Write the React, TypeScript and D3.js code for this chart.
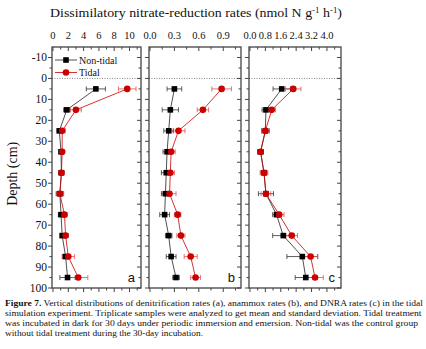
import React from "react";
import * as d3 from "d3";

const depths = [5, 15, 25, 35, 45, 55, 65, 75, 85, 95];

const denitNT = [5.6, 1.8, 0.83, 1.05, 1.1, 0.9, 1.05, 1.2, 1.65, 1.9];
const denitNTerr = [1.25, 0.4, 0.3, 0.25, 0.3, 0.45, 0.35, 0.25, 0.4, 1.0];
const denitT = [9.7, 3.0, 1.2, 1.2, 1.1, 0.9, 1.5, 1.65, 2.0, 3.3];
const denitTerr = [1.15, 0.7, 0.4, 0.25, 0.35, 0.5, 0.35, 0.35, 0.8, 1.25];

const anaNT = [0.3, 0.25, 0.23, 0.21, 0.2, 0.19, 0.18, 0.23, 0.26, 0.32];
const anaNTerr = [0.09, 0.1, 0.06, 0.05, 0.06, 0.05, 0.06, 0.04, 0.06, 0.04];
const anaT = [0.88, 0.65, 0.35, 0.26, 0.25, 0.24, 0.34, 0.38, 0.5, 0.56];
const anaTerr = [0.12, 0.07, 0.08, 0.05, 0.05, 0.08, 0.04, 0.05, 0.08, 0.06];

const dnraNT = [1.65, 0.83, 0.8, 0.55, 0.73, 0.83, 1.38, 1.73, 2.72, 2.9];
const dnraNTerr = [0.45, 0.2, 0.2, 0.15, 0.15, 0.39, 0.2, 0.55, 0.8, 0.55];
const dnraT = [2.25, 1.13, 0.8, 0.55, 0.73, 0.83, 1.52, 2.17, 3.15, 3.38];
const dnraTerr = [0.4, 0.2, 0.2, 0.15, 0.2, 0.25, 0.25, 0.3, 0.37, 0.43];

const yTicks = [-10, 0, 10, 20, 30, 40, 50, 60, 70, 80, 90, 100];

const panels = [
  { id: "a", range: [52, 141], domain: [-0.13, 11.5], major: [0, 2, 4, 6, 8, 10], step: 1, maxTick: 11, fmt: (v: number) => String(v), nt: denitNT, nte: denitNTerr, t: denitT, te: denitTerr },
  { id: "b", range: [149, 241], domain: [-0.012, 1.118], major: [0, 0.3, 0.6, 0.9], step: 0.15, maxTick: 1.05, fmt: (v: number) => v.toFixed(1), nt: anaNT, nte: anaNTerr, t: anaT, te: anaTerr },
  { id: "c", range: [249, 341], domain: [-0.05, 4.73], major: [0, 0.8, 1.6, 2.4, 3.2, 4.0], step: 0.4, maxTick: 4.4, fmt: (v: number) => v.toFixed(1), nt: dnraNT, nte: dnraNTerr, t: dnraT, te: dnraTerr },
];

const RED = "#cc0000";
const RED_ERR = "#e05050";
const AXIS = "#444";
const SERIF = "'Liberation Serif', 'DejaVu Serif', serif";

const y = d3.scaleLinear().domain([-15, 100]).range([47, 288]);

function Panel({ p }: { p: any }) {
  const x = d3.scaleLinear().domain(p.domain).range(p.range);
  const [x0, x1] = p.range;
  const top = y(-15);
  const bot = y(100);
  const minor = d3.range(0, p.maxTick + 1e-9, p.step);
  const yMinor = d3.range(-15, 100.001, 5);
  const lineNT = d3.line<number>().x((_, i) => x(p.nt[i])).y((d) => y(d));
  const lineT = d3.line<number>().x((_, i) => x(p.t[i])).y((d) => y(d));
  const isMajor = (v: number) => p.major.some((m: number) => Math.abs(m - v) < 1e-6);
  return (
    <g>
      <line x1={x0} x2={x1} y1={y(0)} y2={y(0)} stroke="#666" strokeWidth={0.8} strokeDasharray="1,1.5" />
      {minor.map((v: number, i: number) => {
        const L = isMajor(v) ? 4 : 2.5;
        return (
          <g key={"xt" + i}>
            <line x1={x(v)} x2={x(v)} y1={top} y2={top + L} stroke={AXIS} strokeWidth={1} />
            <line x1={x(v)} x2={x(v)} y1={bot} y2={bot + L} stroke={AXIS} strokeWidth={1} />
          </g>
        );
      })}
      {p.major.map((v: number, i: number) => (
        <text key={"xl" + i} x={x(v)} y={39} textAnchor="middle" fontFamily={SERIF} fontSize={10.5} fill="#111">
          {p.fmt(v)}
        </text>
      ))}
      {yMinor.map((v: number, i: number) => {
        if (v < -10) return null;
        const L = v % 10 === 0 ? 4 : 2.5;
        return (
          <g key={"yt" + i}>
            <line x1={x0 - L} x2={x0} y1={y(v)} y2={y(v)} stroke={AXIS} strokeWidth={1} />
            <line x1={x1 - L} x2={x1} y1={y(v)} y2={y(v)} stroke={AXIS} strokeWidth={1} />
          </g>
        );
      })}
      <rect x={x0} y={top} width={x1 - x0} height={bot - top} fill="none" stroke={AXIS} strokeWidth={1.3} />
      <path d={lineNT(depths) || ""} fill="none" stroke="#222" strokeWidth={0.8} />
      {depths.map((d, i) => (
        <g key={"nte" + i} stroke="#333" strokeWidth={0.8}>
          <line x1={x(p.nt[i] - p.nte[i])} x2={x(p.nt[i] + p.nte[i])} y1={y(d)} y2={y(d)} />
          <line x1={x(p.nt[i] - p.nte[i])} x2={x(p.nt[i] - p.nte[i])} y1={y(d) - 2.5} y2={y(d) + 2.5} />
          <line x1={x(p.nt[i] + p.nte[i])} x2={x(p.nt[i] + p.nte[i])} y1={y(d) - 2.5} y2={y(d) + 2.5} />
        </g>
      ))}
      <path d={lineT(depths) || ""} fill="none" stroke={RED} strokeWidth={0.8} />
      {depths.map((d, i) => (
        <g key={"te" + i} stroke={RED_ERR} strokeWidth={0.8}>
          <line x1={x(p.t[i] - p.te[i])} x2={x(p.t[i] + p.te[i])} y1={y(d)} y2={y(d)} />
          <line x1={x(p.t[i] - p.te[i])} x2={x(p.t[i] - p.te[i])} y1={y(d) - 2.5} y2={y(d) + 2.5} />
          <line x1={x(p.t[i] + p.te[i])} x2={x(p.t[i] + p.te[i])} y1={y(d) - 2.5} y2={y(d) + 2.5} />
        </g>
      ))}
      {depths.map((d, i) => (
        <rect key={"ntm" + i} x={x(p.nt[i]) - 2.8} y={y(d) - 2.8} width={5.6} height={5.6} fill="#000" />
      ))}
      {depths.map((d, i) => (
        <circle key={"tm" + i} cx={x(p.t[i])} cy={y(d)} r={3.3} fill={RED} />
      ))}
      <text x={x1 - 6} y={y(95) + 4.5} textAnchor="end" fontFamily="'Liberation Sans', Arial, sans-serif" fontSize={13} fill="#111">
        {p.id}
      </text>
    </g>
  );
}

export default function App() {
  return (
    <svg width={426} height={349} style={{ position: "absolute", left: 0, top: 0, background: "#fff" }}>
      <rect width={426} height={349} fill="#fff" />
      <text x={196} y={17} textAnchor="middle" fontFamily={SERIF} fontSize={12.5} fill="#111" textLength={292} lengthAdjust="spacingAndGlyphs">
        Dissimilatory nitrate-reduction rates (nmol N g
        <tspan dy={-4} fontSize={8}>-1</tspan>
        <tspan dy={4}> h</tspan>
        <tspan dy={-4} fontSize={8}>-1</tspan>
        <tspan dy={4}>)</tspan>
      </text>
      {yTicks.map((v) => (
        <text key={"yl" + v} x={47} y={y(v) + 4} textAnchor="end" fontFamily={SERIF} fontSize={11.5} fill="#111">
          {v}
        </text>
      ))}
      <text transform={`translate(16.5,${y(45.5)}) rotate(-90)`} textAnchor="middle" fontFamily={SERIF} fontSize={14} fill="#111">
        Depth (cm)
      </text>
      {panels.map((p) => (
        <Panel key={p.id} p={p} />
      ))}
      <line x1={55} x2={77} y1={60} y2={60} stroke="#222" strokeWidth={0.8} />
      <rect x={63.2} y={57.2} width={5.6} height={5.6} fill="#000" />
      <text x={79} y={63.5} fontFamily={SERIF} fontSize={10} fill="#111">Non-tidal</text>
      <line x1={55} x2={77} y1={72.5} y2={72.5} stroke={RED} strokeWidth={0.8} />
      <circle cx={66} cy={72.5} r={3.3} fill={RED} />
      <text x={79} y={76} fontFamily={SERIF} fontSize={10} fill="#111">Tidal</text>
      <g fontFamily={SERIF} fontSize={8} fill="#111">
        <text x={5} y={306} textLength={418} lengthAdjust="spacingAndGlyphs">
          <tspan fontWeight="bold">Figure 7.</tspan>
          {"  Vertical distributions of denitrification rates (a), anammox rates (b), and DNRA rates (c) in the tidal"}
        </text>
        <text x={5} y={316} textLength={416.5} lengthAdjust="spacingAndGlyphs">
          simulation experiment. Triplicate samples were analyzed to get mean and standard deviation. Tidal treatment
        </text>
        <text x={5} y={326} textLength={413} lengthAdjust="spacingAndGlyphs">
          was incubated in dark for 30 days under periodic immersion and emersion. Non-tidal was the control group
        </text>
        <text x={5} y={336} textLength={198} lengthAdjust="spacingAndGlyphs">
          without tidal treatment during the 30-day incubation.
        </text>
      </g>
    </svg>
  );
}
